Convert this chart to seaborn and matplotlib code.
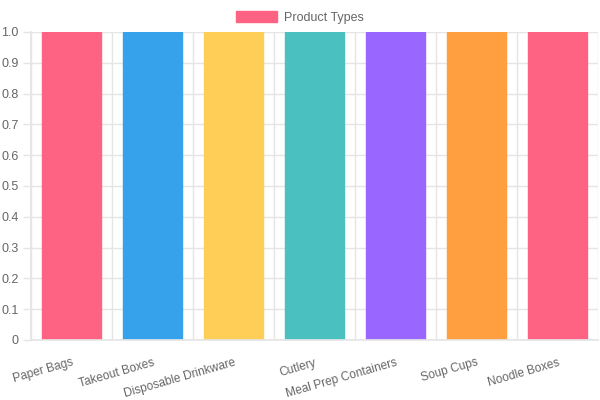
import matplotlib
matplotlib.use("Agg")
import matplotlib.pyplot as plt
from matplotlib.patches import Patch
import seaborn as sns
import numpy as np

categories = ["Paper Bags", "Takeout Boxes", "Disposable Drinkware", "Cutlery",
              "Meal Prep Containers", "Soup Cups", "Noodle Boxes"]
values = [1, 1, 1, 1, 1, 1, 1]
colors = ["#FF6384", "#36A2EB", "#FFCE56", "#4BC0C0", "#9966FF", "#FF9F40", "#FF6384"]
series_name = "Product Types"

sns.set_theme(style="white")
plt.rcParams['font.family'] = ['Liberation Sans', 'DejaVu Sans']

fig = plt.figure(figsize=(6, 4), dpi=100)
ax = fig.add_axes([31/600, 1 - 340/400, 567/600, 308/400])

sns.barplot(x=categories, y=values, hue=categories, palette=colors, legend=False,
            width=0.72, saturation=1, ax=ax, linewidth=1)
for p, c in zip(ax.patches, colors):
    p.set_edgecolor(c)

ax.set_xlim(-0.5, len(categories) - 0.5)
ax.set_ylim(0, 1)
ax.set_yticks(np.arange(0, 1.01, 0.1))
ax.set_yticklabels(["0"] + [f"{v:.1f}" for v in np.arange(0.1, 1.01, 0.1)])
ax.set_xticks(range(len(categories)))
ax.set_xticklabels(categories, rotation=16, ha="right", rotation_mode="anchor")
ax.set_xticks(np.arange(-0.5, len(categories)), minor=True)

ax.tick_params(axis="x", which="major", length=0, pad=12, labelsize=8.6, labelcolor="#666666")
ax.tick_params(axis="x", which="minor", length=7, color="#e5e5e5", width=1)
ax.tick_params(axis="y", length=6, color="#e5e5e5", width=1, labelsize=9,
               labelcolor="#666666", pad=3, left=True)
ax.grid(True, axis="y", color="#e5e5e5", linewidth=1)
ax.grid(True, axis="x", which="minor", color="#e5e5e5", linewidth=1)
ax.set_axisbelow(True)
for s in ax.spines.values():
    s.set_visible(False)
ax.spines["left"].set_visible(True)
ax.spines["left"].set_color("#e5e5e5")
ax.spines["bottom"].set_visible(True)
ax.spines["bottom"].set_color("#e5e5e5")
ax.set_xlabel("")
ax.set_ylabel("")

fig.legend(handles=[Patch(facecolor=colors[0], edgecolor=colors[0], label=series_name)],
           loc="upper center", bbox_to_anchor=(0.5, 1.0), frameon=False, fontsize=9,
           handlelength=3.3, handleheight=1.0, handletextpad=0.6, labelcolor="#666666")

fig.savefig("out.png", dpi=100)
